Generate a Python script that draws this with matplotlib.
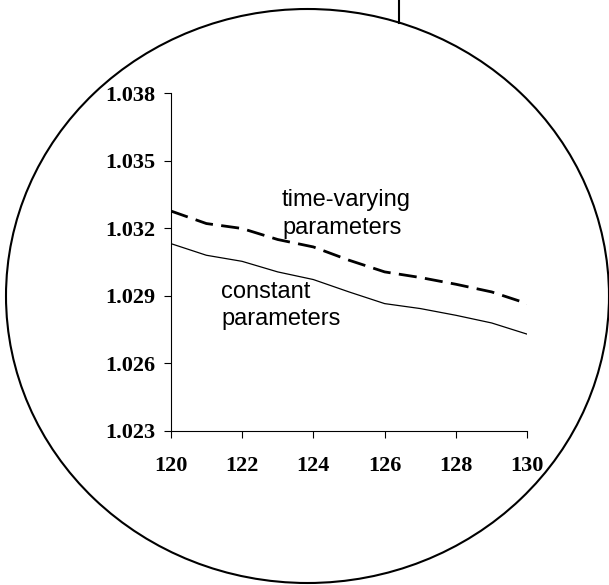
import matplotlib
matplotlib.use('Agg')
import matplotlib.pyplot as plt
from matplotlib.patches import Ellipse
from matplotlib.lines import Line2D

steps = [120, 121, 122, 123, 124, 125, 126, 127, 128, 129, 130]
constant = [1.03132, 1.0308, 1.03053, 1.03006, 1.02972, 1.02917,
            1.02865, 1.02843, 1.02813, 1.02779, 1.02729]
time_varying = [1.03277, 1.03221, 1.03199, 1.0315, 1.03117, 1.03058,
                1.03006, 1.02981, 1.02951, 1.02917, 1.02865]
xticks = [120, 122, 124, 126, 128, 130]
yticks = [1.023, 1.026, 1.029, 1.032, 1.035, 1.038]


def main():
    fig = plt.figure(figsize=(6.09, 5.85), dpi=100)
    ax = fig.add_axes([170.7 / 609, 1 - 430.7 / 585,
                       (527.3 - 170.7) / 609, (430.7 - 93.3) / 585])

    ax.plot(steps, constant, color='black', lw=0.9)
    ax.plot(steps, time_varying, color='black', lw=2, dashes=(6.5, 3))

    ax.set_xlim(120, 130)
    ax.set_ylim(1.023, 1.038)
    ax.set_xticks(xticks)
    ax.set_yticks(yticks)
    ax.set_yticklabels(['%.3f' % v for v in yticks])
    for s in ['top', 'right']:
        ax.spines[s].set_visible(False)
    for s in ['left', 'bottom']:
        ax.spines[s].set_linewidth(0.8)
    ax.tick_params(direction='out', length=5, width=0.8)
    ax.tick_params(axis='y', pad=6)
    ax.tick_params(axis='x', pad=13)
    for lab in ax.get_xticklabels() + ax.get_yticklabels():
        lab.set_family('Liberation Serif')
        lab.set_fontweight('bold')
        lab.set_fontsize(16)

    ax.text(123.12, 1.03264, 'time-varying\nparameters', family='Liberation Sans',
            fontsize=17, va='center', ha='left', linespacing=1.33)
    ax.text(121.41, 1.02857, 'constant\nparameters', family='Liberation Sans',
            fontsize=17, va='center', ha='left', linespacing=1.33)

    # circle around the chart and the pointer line on top
    fig.patches.append(Ellipse((307.5 / 609, 1 - 296 / 585), 603 / 609, 574 / 585,
                               transform=fig.transFigure, fill=False,
                               edgecolor='black', lw=1.5))
    fig.lines.append(Line2D([399 / 609, 399 / 609], [1, 1 - 23 / 585],
                            transform=fig.transFigure, color='black', lw=1.5))

    fig.savefig('out.png', dpi=100)


if __name__ == '__main__':
    main()
